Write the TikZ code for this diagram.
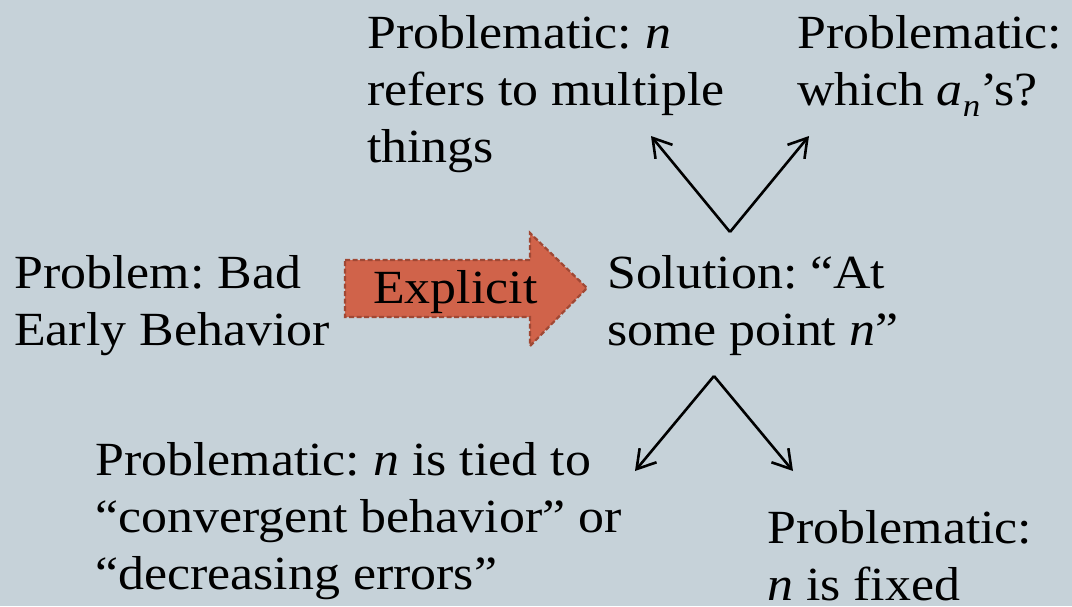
\documentclass[tikz,border=0pt]{standalone}
\usepackage{fontspec}
\setmainfont{Liberation Serif}[FakeStretch=1.09]
\usetikzlibrary{arrows.meta}
\frenchspacing
\definecolor{bgc}{RGB}{198,210,217}
\definecolor{arrfill}{RGB}{208,99,74}
\definecolor{arrdraw}{RGB}{160,72,52}
\newcommand\bigtxt{\fontsize{47.6}{57}\selectfont\frenchspacing}
\tikzset{
  txt/.style={anchor=base west, inner sep=0pt, align=left, font=\bigtxt, text=black},
  conn/.style={line width=2.6pt, -{Straight Barb[length=18pt,width=22pt,line width=2.6pt]}},
  fatarrow/.style={fill=arrfill, draw=arrdraw, line width=2.2pt, dash pattern=on 5pt off 2.5pt, line join=miter}
}
\begin{document}
\begin{tikzpicture}[x=1pt,y=-1pt]
\fill[bgc] (0,0) rectangle (1072,606);
\useasboundingbox (0,0) rectangle (1072,606);
% big arrow
\draw[fatarrow] (345,260) -- (530,260) -- (530,233) -- (587,288) -- (530,346) -- (530,317) -- (345,317) -- cycle;
\node[txt] (expl) at (373,303) {Explicit};
% texts (anchored at the baseline of the last line)
\node[txt] (prob) at (14,345) {Problem: Bad\\Early Behavior};
\node[txt] (sol) at (607,345) {Solution: “At\\some point \textit{n}”};
\node[txt] (ptl) at (367,162) {Problematic: \textit{n}\\refers to multiple\\things};
\node[txt] (ptr) at (797,105) {Problematic:\\which \textit{a}\raisebox{-0.25em}{\fontsize{32}{32}\selectfont\textit{n}}’s?};
\node[txt] (pbl) at (95,589) {Problematic: \textit{n} is tied to\\“convergent behavior” or\\“decreasing errors”};
\node[txt] (pbr) at (767,600) {Problematic:\\\textit{n} is fixed};
% connectors
\coordinate (vt) at (730,232);
\coordinate (tl) at (651,136);
\coordinate (tr) at (809,136);
\coordinate (vb) at (714,376);
\coordinate (bl) at (635,471);
\coordinate (br) at (793,471);
\draw[conn] (vt) -- (tl);
\draw[conn] (vt) -- (tr);
\draw[conn] (vb) -- (bl);
\draw[conn] (vb) -- (br);
\end{tikzpicture}
\end{document}
